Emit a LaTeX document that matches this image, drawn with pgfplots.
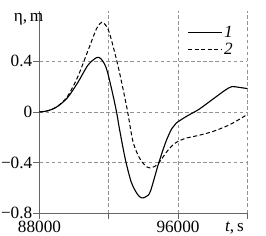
\documentclass[border=0pt]{standalone}
\usepackage{fontspec}
\setmainfont{Liberation Serif}
\usepackage{pgfplots}
\pgfplotsset{compat=1.18}
\newcommand\etalab{η,\,m}
\newcommand\tlab{\llap{\textit{t},\,s\hspace{3.5pt}}}
\begin{document}
\begin{tikzpicture}[font=\rmfamily]
\begin{axis}[
  scale only axis, width=205.5pt, height=200pt,
  xmin=88000, xmax=100000, ymin=-0.8, ymax=0.8,
  axis x line=bottom, axis y line=left,
  axis line style={-, gray!80!black, line width=0.6pt},
  scaled x ticks=false, scaled y ticks=false,
  xtick={88000,92000,96000,100000}, xticklabels={88000,,96000,\tlab},
  ytick={-0.8,-0.4,0,0.4}, yticklabels={−0.8,−0.4,0,0.4},
  extra y ticks={0.8}, extra y tick labels={\etalab},
  extra y tick style={grid=none, major tick length=0pt, yticklabel style={xshift=5pt, yshift=-8.5pt}},
  grid=major, major grid style={dash pattern=on 3.5pt off 2.5pt, gray!85, line width=0.5pt},
  tick align=outside, major tick length=6pt, tick style={gray!80!black, line width=0.6pt},
  xticklabel style={font=\rmfamily\fontsize{17}{20}\selectfont, inner ysep=2pt},
  yticklabel style={font=\rmfamily\fontsize{17}{20}\selectfont, inner xsep=1pt},
  legend style={at={(0.955,0.945)}, anchor=north east, draw=none, fill=none,
    font=\rmfamily\fontsize{17}{20}\selectfont, row sep=0pt},
  legend cell align=left,
  legend image code/.code={\draw[#1] (0pt,0pt) -- (33pt,0pt);},
]
\addplot[black, line width=1.1pt, smooth, tension=0.5] coordinates {
(88000,0) (88500,0.01) (89000,0.04) (89600,0.11) (90200,0.23) (90800,0.37)
(91300,0.43) (91550,0.42) (91850,0.35) (92150,0.19) (92450,0.0)
(92600,-0.12) (92950,-0.37) (93300,-0.555) (93650,-0.65) (93900,-0.68) (94150,-0.67) (94400,-0.63)
(94850,-0.42) (95300,-0.235) (95650,-0.13) (95900,-0.088) (96500,-0.034) (97200,0.02)
(98000,0.10) (98700,0.17) (99100,0.20) (99500,0.195) (100000,0.185)
};
\addlegendentry{\textit{1}}
\addplot[black, line width=1.0pt, dash pattern=on 4pt off 2.5pt, smooth, tension=0.5] coordinates {
(88000,0) (88500,0.01) (89000,0.04) (89600,0.12) (90200,0.275) (90800,0.485)
(91300,0.66) (91600,0.71) (91800,0.69) (92050,0.62) (92550,0.355) (93050,0.03)
(93400,-0.235) (93800,-0.37) (94200,-0.435) (94500,-0.44) (94850,-0.41)
(95350,-0.315) (95800,-0.25) (96400,-0.21) (97200,-0.185) (98000,-0.155)
(99000,-0.10) (100000,-0.02)
};
\addlegendentry{\textit{2}}
\end{axis}
\path (current axis.north east) ++(18.5pt,10.7pt);
\end{tikzpicture}
\end{document}
